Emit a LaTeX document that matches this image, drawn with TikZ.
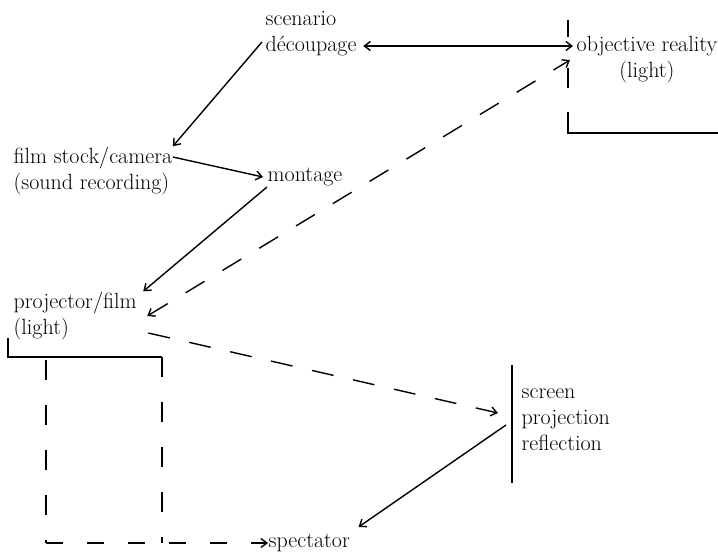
\documentclass[tikz,border=0pt]{standalone}
\usetikzlibrary{arrows.meta}

\begin{document}
\begin{tikzpicture}[
    x=1pt, y=-1pt,
    >={Straight Barb[length=6pt,width=9pt]}, line width=1.4pt,
    term/.style={inner sep=0pt, anchor=west, font=\fontsize{22}{26}\selectfont},
    lightray/.style 2 args={dash pattern=on #1 off #2}
]
\useasboundingbox (0,0) rectangle (718,552);

% -------------------------
% Terms
% -------------------------
\node[term, align=left] (Scenario) at (265,34) {scenario\\découpage};
\node[term, align=center] (Reality) at (576,60) {objective reality\\(light)};
\node[term, align=left] (Camera) at (13,171) {film stock/camera\\(sound recording)};
\node[term] (Montage) at (267,177) {montage};
\node[term, align=left] (Projector) at (13,316) {projector/film\\(light)};
\node[term, align=left] (Screen) at (521,420) {screen\\projection\\reflection};
\node[term] (Spectator) at (268,543) {spectator};

% -------------------------
% Bars and brackets
% -------------------------
\draw (568,20) -- (568,37);
\draw (568,68) -- (568,88);
\draw (568,112) -- (568,133) -- (718,133);
\draw (512,365) -- (512,483);
\draw (8,338) -- (8,357) -- (162,357);
\coordinate (LampL) at (46,360);
\coordinate (LampR) at (162,357);
\coordinate (Corner) at (LampL |- Spectator.west);

% -------------------------
% Connectors
% -------------------------
\draw[<->] ([xshift=6pt,yshift=-12pt]Scenario.east) -- ([xshift=-3pt,yshift=14pt]Reality.west);
\draw[->] ([xshift=-3pt,yshift=-8pt]Scenario.west) -- (Camera.north east);
\draw[->] ([yshift=14pt]Camera.east) -- ([xshift=-4pt]Montage.west);
\draw[->] ([yshift=-10pt]Montage.west) -- ([xshift=6pt]Projector.north east);

% light paths
\draw[<->, lightray={22pt}{21pt}] ([xshift=10pt]Projector.east) -- ([xshift=-6pt]Reality.west);
\draw[->, lightray={22pt}{20pt}] ([xshift=11pt,yshift=-17pt]Projector.east) -- ([xshift=-23pt,yshift=7pt]Screen.west);
\draw[->] ([xshift=-15pt,yshift=-5pt]Screen.west) -- ([xshift=8pt,yshift=16pt]Spectator.east);
\draw[lightray={20pt}{25pt}] (LampL) -- (Corner);
\draw[->, lightray={17pt}{24pt}] (Corner) -- (Spectator.west);
\draw[lightray={20pt}{25pt}] (LampR) -- (LampR |- Spectator.west);

\end{tikzpicture}
\end{document}
